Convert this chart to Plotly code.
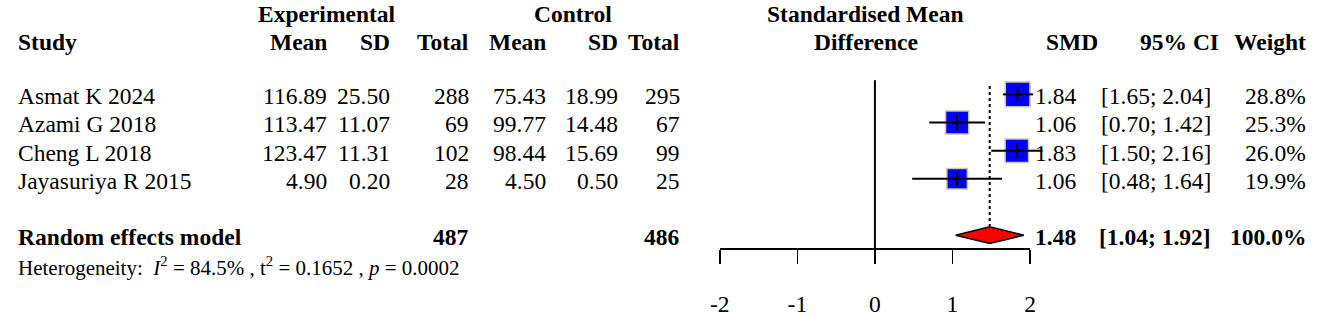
import plotly.graph_objects as go

# ---------------- data ----------------
studies = ["Asmat K 2024", "Azami G 2018", "Cheng L 2018", "Jayasuriya R 2015"]
exp_mean = [116.89, 113.47, 123.47, 4.90]
exp_sd = [25.50, 11.07, 11.31, 0.20]
exp_n = [288, 69, 102, 28]
ctl_mean = [75.43, 99.77, 98.44, 4.50]
ctl_sd = [18.99, 14.48, 15.69, 0.50]
ctl_n = [295, 67, 99, 25]
smd = [1.84, 1.06, 1.83, 1.06]
ci_lo = [1.65, 0.70, 1.50, 0.48]
ci_hi = [2.04, 1.42, 2.16, 1.64]
weight = [28.8, 25.3, 26.0, 19.9]
pooled_smd = 1.48
pooled_lo = 1.04
pooled_hi = 1.92
pooled_weight = 100.0
exp_total = 487
ctl_total = 486
het_i2 = "84.5%"
het_tau2 = "0.1652"
het_p = "0.0002"
axis_ticks = [-2, -1, 0, 1, 2]

# ---------------- layout geometry ----------------
W, H = 1325, 317
X0_PX = 875.5          # pixel of SMD = 0
PPU = 78.5             # pixels per SMD unit
ROW0_PX = 96.5         # pixel of first study row
ROW_STEP = 28.8
AXIS_PX = 254.0
TXT_DY = 2.0 / ROW_STEP  # text baseline tweak (rows)
FONT = "Liberation Serif"
FS = 23.5

def px(xp):
    return xp / W

def py(yp):
    return 1 - yp / H

rows = list(range(len(studies)))
pooled_row = 5

fig = go.Figure()

# zero line
fig.add_shape(type="line", xref="x", yref="paper", x0=0, x1=0,
              y0=py(82), y1=py(AXIS_PX), line=dict(color="black", width=2))
# pooled dotted line
fig.add_shape(type="line", xref="x", yref="paper", x0=pooled_smd, x1=pooled_smd,
              y0=py(88), y1=py(231), line=dict(color="black", width=2, dash="dot"))

# squares (size by weight)
fig.add_trace(go.Scatter(
    x=smd, y=rows, mode="markers",
    marker=dict(symbol="square", size=[4.6 * w ** 0.5 for w in weight], color="#0000ff",
                opacity=1, line=dict(color="#cfc6a8", width=1.5)),
    showlegend=False, hoverinfo="skip"))
# CI lines (drawn over the squares)
for i in rows:
    fig.add_trace(go.Scatter(x=[ci_lo[i], ci_hi[i]], y=[i, i], mode="lines",
                             line=dict(color="black", width=2), showlegend=False,
                             hoverinfo="skip"))
# centre ticks
fig.add_trace(go.Scatter(
    x=smd, y=rows, mode="markers",
    marker=dict(symbol="line-ns", size=10, opacity=1, line=dict(color="black", width=2)),
    showlegend=False, hoverinfo="skip"))
# pooled diamond
dh = 8.5 / ROW_STEP
fig.add_trace(go.Scatter(
    x=[pooled_lo, pooled_smd, pooled_hi, pooled_smd, pooled_lo],
    y=[pooled_row, pooled_row - dh, pooled_row, pooled_row + dh, pooled_row],
    mode="lines", fill="toself", fillcolor="#ff0000",
    line=dict(color="black", width=1.5), showlegend=False, hoverinfo="skip"))

# invisible trace so that the bottom axis (x2) is drawn
fig.add_trace(go.Scatter(x=[0], y=[None], xaxis="x2", yaxis="y", mode="markers",
                         showlegend=False, hoverinfo="skip"))

ann = []

def txt(x, y, s, anchor="right", bold=False, size=FS, yref="paper"):
    if bold:
        s = "<b>" + s + "</b>"
    ann.append(dict(x=px(x), y=y, xref="paper", yref=yref, text=s, showarrow=False,
                    xanchor=anchor, yanchor="middle", borderpad=0,
                    font=dict(family=FONT, size=size, color="black")))

# headers
txt(321, py(14), "Experimental", "center", True)
txt(570, py(14), "Control", "center", True)
txt(866, py(14), "Standardised Mean", "center", True)
txt(7, py(43), "Study", "left", True)
txt(866, py(43), "Difference", "center", True)
col_right = dict(em=322, es=386, en=466, cm=544, cs=616, cn=679)
txt(col_right["em"], py(43), "Mean", bold=True)
txt(col_right["es"], py(43), "SD", bold=True)
txt(col_right["en"], py(43), "Total", bold=True)
txt(col_right["cm"], py(43), "Mean", bold=True)
txt(col_right["cs"], py(43), "SD", bold=True)
txt(col_right["cn"], py(43), "Total", bold=True)
txt(1102, py(43), "SMD", bold=True)
txt(1225, py(43), "95% CI", bold=True)
txt(1313, py(43), "Weight", bold=True)

for i in rows:
    y = i + TXT_DY
    txt(7, y, studies[i], "left", yref="y")
    txt(col_right["em"], y, f"{exp_mean[i]:.2f}", yref="y")
    txt(col_right["es"], y, f"{exp_sd[i]:.2f}", yref="y")
    txt(col_right["en"], y, f"{exp_n[i]}", yref="y")
    txt(col_right["cm"], y, f"{ctl_mean[i]:.2f}", yref="y")
    txt(col_right["cs"], y, f"{ctl_sd[i]:.2f}", yref="y")
    txt(col_right["cn"], y, f"{ctl_n[i]}", yref="y")
    txt(1080, y, f"{smd[i]:.2f}", yref="y")
    txt(1217, y, f"[{ci_lo[i]:.2f}; {ci_hi[i]:.2f}]", yref="y")
    txt(1313, y, f"{weight[i]:.1f}%", yref="y")

yp = pooled_row + TXT_DY
txt(7, yp, "Random effects model", "left", True, yref="y")
txt(col_right["en"], yp, f"{exp_total}", bold=True, yref="y")
txt(col_right["cn"], yp, f"{ctl_total}", bold=True, yref="y")
txt(1080, yp, f"{pooled_smd:.2f}", bold=True, yref="y")
txt(1217, yp, f"[{pooled_lo:.2f}; {pooled_hi:.2f}]", bold=True, yref="y")
txt(1313, yp, f"{pooled_weight:.1f}%", bold=True, yref="y")

txt(7, py(273), f"Heterogeneity:  <i>I</i><sup>2</sup> = {het_i2} , t<sup>2</sup> = {het_tau2} , <i>p</i> = {het_p}",
    "left", size=21)

fig.update_layout(
    width=W, height=H, margin=dict(l=0, r=0, t=0, b=0),
    paper_bgcolor="white", plot_bgcolor="rgba(0,0,0,0)",
    annotations=ann,
    xaxis=dict(range=[-X0_PX / PPU, (W - X0_PX) / PPU], visible=False, domain=[0, 1]),
    yaxis=dict(range=[(H - ROW0_PX) / ROW_STEP, -ROW0_PX / ROW_STEP], visible=False,
               domain=[0, 1]),
    xaxis2=dict(domain=[(X0_PX - 2 * PPU) / W, (X0_PX + 2 * PPU) / W], range=[-2, 2],
                anchor="free", position=py(AXIS_PX), showline=True, linecolor="black",
                linewidth=1.5, ticks="outside", ticklen=14, tickwidth=1.5, tickcolor="black",
                tickvals=axis_ticks, ticktext=[str(t) for t in axis_ticks],
                tickfont=dict(family=FONT, size=FS, color="black"), showgrid=False,
                zeroline=False, ticklabelstandoff=20, fixedrange=True),
)

cfg = {"displayModeBar": False, "staticPlot": True}
post = "document.body.style.margin='0';document.body.style.overflow='hidden';"
fig.write_html("out.html", config=cfg, post_script=post)
